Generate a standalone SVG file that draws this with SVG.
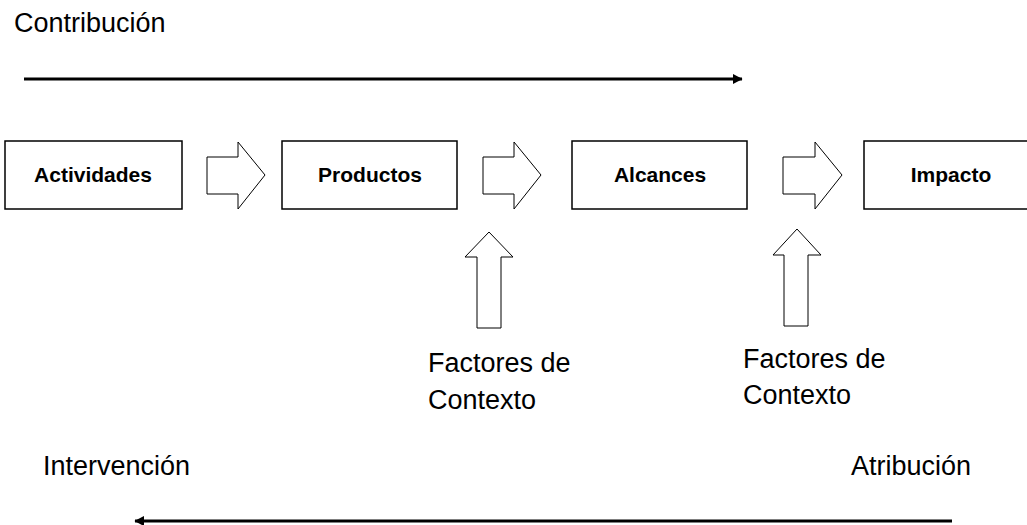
<svg xmlns="http://www.w3.org/2000/svg" width="1027" height="525" viewBox="0 0 1027 525">
<style>
.box{fill:#fff;stroke:#000;stroke-width:1.5}
.blk{fill:#fff;stroke:#000;stroke-width:1}
.lbl{font-family:"Liberation Sans",Arial,sans-serif;font-size:21px;font-weight:bold;fill:#000;text-anchor:middle}
.txt{font-family:"Liberation Sans",Arial,sans-serif;font-size:27px;fill:#000}
.ln{stroke:#000;stroke-width:3;fill:none}
</style>
<defs>
<marker id="ah" markerWidth="4" markerHeight="4" refX="3" refY="2" orient="auto" markerUnits="strokeWidth">
<path d="M0,0.3 L3.2,2 L0,3.7 Z" fill="#000"/>
</marker>
</defs>
<rect width="1027" height="525" fill="#fff"/>
<text class="txt" x="14" y="32">Contribución</text>
<g id="connectors">
<line class="ln" x1="24" y1="79" x2="742" y2="79" marker-end="url(#ah)"/>
<line class="ln" x1="952" y1="521" x2="135" y2="521" marker-end="url(#ah)"/>
<polygon class="blk" points="207,157 238,157 238,142 265,175 238,209 238,194 207,194"/>
<polygon class="blk" points="483,157 514,157 514,142 541,175 514,209 514,194 483,194"/>
<polygon class="blk" points="783,157 815,157 815,142 842,175 815,209 815,194 783,194"/>
<polygon class="blk" points="489,232 513,257 501,257 501,328 477,328 477,257 465,257"/>
<polygon class="blk" points="797,229 821,255 808,255 808,326 784,326 784,255 773,255"/>
</g>
<g id="actividades"><rect class="box" x="5" y="141" width="177" height="68"/><text class="lbl" x="93" y="182">Actividades</text></g>
<g id="productos"><rect class="box" x="282" y="141" width="175" height="68"/><text class="lbl" x="370" y="182">Productos</text></g>
<g id="alcances"><rect class="box" x="572" y="141" width="175" height="68"/><text class="lbl" x="660" y="182">Alcances</text></g>
<g id="impacto"><rect class="box" x="864" y="141" width="180" height="68"/><text class="lbl" x="951" y="182">Impacto</text></g>
<g id="factores1"><text class="txt" x="428" y="372">Factores de</text><text class="txt" x="428" y="409">Contexto</text></g>
<g id="factores2"><text class="txt" x="743" y="368">Factores de</text><text class="txt" x="743" y="404">Contexto</text></g>
<text class="txt" x="43" y="475">Intervención</text>
<text class="txt" x="851" y="475">Atribución</text>
</svg>
